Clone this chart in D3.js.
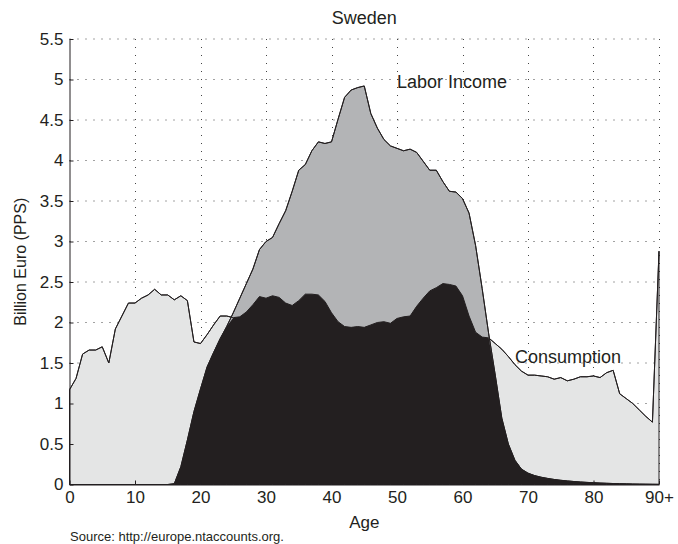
<!DOCTYPE html>
<html><head><meta charset="utf-8">
<script src="https://cdn.jsdelivr.net/npm/d3@7"></script>
<style>
body{margin:0;background:#fff}
svg{display:block}
text{font-family:"Liberation Sans",Arial,Helvetica,sans-serif;fill:#231f20}
</style>
</head><body>
<svg id="chart" width="678" height="544"></svg>
<script>
// ---- data ----
const title = "Sweden";
const ages = d3.range(0, 91);
const consumption = [
  1.17,1.31,1.61,1.66,1.66,1.70,1.50,1.92,2.08,2.24,
  2.24,2.30,2.34,2.41,2.34,2.34,2.28,2.33,2.27,1.76,
  1.74,1.85,1.97,2.08,2.08,2.06,2.07,2.13,2.22,2.32,
  2.30,2.33,2.31,2.24,2.21,2.27,2.35,2.35,2.34,2.26,
  2.12,2.01,1.95,1.94,1.95,1.94,1.97,2.00,2.01,1.99,
  2.05,2.07,2.08,2.20,2.30,2.39,2.43,2.48,2.47,2.45,
  2.33,2.08,1.88,1.82,1.81,1.74,1.67,1.58,1.48,1.40,
  1.35,1.35,1.34,1.33,1.30,1.32,1.28,1.30,1.33,1.33,
  1.34,1.32,1.38,1.41,1.12,1.06,1.00,0.92,0.84,0.77,
  2.88
];
const laborIncome = [
  0,0,0,0,0,0,0,0,0,0,
  0,0,0,0,0,0,0.01,0.22,0.55,0.90,
  1.18,1.45,1.63,1.80,1.95,2.12,2.30,2.48,2.66,2.90,
  3.00,3.05,3.22,3.38,3.62,3.88,3.95,4.12,4.23,4.21,
  4.23,4.51,4.78,4.87,4.90,4.92,4.58,4.40,4.26,4.18,
  4.15,4.12,4.14,4.10,3.99,3.88,3.88,3.74,3.62,3.61,
  3.53,3.35,2.95,2.42,1.86,1.35,0.82,0.50,0.30,0.19,
  0.14,0.11,0.09,0.075,0.062,0.052,0.044,0.037,0.031,0.026,
  0.022,0.018,0.015,0.012,0.010,0.008,0.006,0.005,0.004,0.003,
  0.002
];
const xTickValues = [0,10,20,30,40,50,60,70,80,90];
const xTickLabels = ["0","10","20","30","40","50","60","70","80","90+"];
const yTickValues = [0,0.5,1,1.5,2,2.5,3,3.5,4,4.5,5,5.5];
const yTickLabels = ["0","0.5","1","1.5","2","2.5","3","3.5","4","4.5","5","5.5"];
const seriesLabels = {consumption: "Consumption", labor: "Labor Income"};
const xLabel = "Age";
const yLabel = "Billion Euro (PPS)";
const sourceNote = "Source: http://europe.ntaccounts.org.";

// ---- layout ----
const svg = d3.select("#chart");
const x = d3.scaleLinear().domain([0, 90]).range([69.5, 659]);
const y = d3.scaleLinear().domain([0, 5.5]).range([484.5, 39]);
const ink = "#231f20";

const rows = ages.map((a, i) => ({
  age: a, c: consumption[i], l: laborIncome[i], m: Math.min(consumption[i], laborIncome[i])
}));

// grid
const grid = svg.append("g");
grid.selectAll("line.v").data(xTickValues.slice(1)).join("line")
  .attr("x1", d => Math.round(x(d)) + 0.5).attr("x2", d => Math.round(x(d)) + 0.5)
  .attr("y1", y(5.5)).attr("y2", y(0))
  .attr("stroke", "#444").attr("stroke-width", 1).attr("stroke-dasharray", "1,7");
grid.selectAll("line.h").data(yTickValues.slice(1)).join("line")
  .attr("y1", d => y(d)).attr("y2", d => y(d))
  .attr("x1", x(0)).attr("x2", x(90))
  .attr("stroke", "#444").attr("stroke-width", 1).attr("stroke-dasharray", "1,7");

// areas
const areaC = d3.area().x(d => x(d.age)).y0(y(0)).y1(d => y(d.c));
const areaL = d3.area().x(d => x(d.age)).y0(y(0)).y1(d => y(d.l));
const areaM = d3.area().x(d => x(d.age)).y0(y(0)).y1(d => y(d.m));
svg.append("path").datum(rows).attr("d", areaC)
  .attr("fill", "#e4e5e5").attr("stroke", ink).attr("stroke-width", 1);
svg.append("path").datum(rows).attr("d", areaL)
  .attr("fill", "#b3b4b6").attr("stroke", ink).attr("stroke-width", 1);
svg.append("path").datum(rows).attr("d", areaM)
  .attr("fill", ink).attr("stroke", "none");

// lines
const lineC = d3.line().x(d => x(d.age)).y(d => y(d.c));
const lineL = d3.line().x(d => x(d.age)).y(d => y(d.l));
svg.append("path").datum(rows).attr("d", lineC).attr("fill", "none").attr("stroke", ink).attr("stroke-width", 1);
svg.append("path").datum(rows).attr("d", lineL).attr("fill", "none").attr("stroke", ink).attr("stroke-width", 1);

// axes
const xAxis = d3.axisBottom(x).tickValues(xTickValues)
  .tickFormat((d, i) => xTickLabels[i]).tickSizeInner(-4).tickSizeOuter(0).tickPadding(6);
const yAxis = d3.axisLeft(y).tickValues(yTickValues)
  .tickFormat((d, i) => yTickLabels[i]).tickSizeInner(-4).tickSizeOuter(0).tickPadding(6);
const gx = svg.append("g").attr("transform", `translate(0,${y(0)})`).call(xAxis);
const gy = svg.append("g").attr("transform", `translate(${x(0)},0)`).call(yAxis);
[gx, gy].forEach(g => {
  g.select(".domain").attr("stroke", ink);
  g.selectAll(".tick line").attr("stroke", ink);
  g.selectAll(".tick text").attr("fill", ink)
    .style("font-family", '"Liberation Sans",Arial,sans-serif').style("font-size", "17px");
});

// texts
svg.append("text").attr("x", x(45)).attr("y", 24).attr("text-anchor", "middle")
  .style("font-size", "18px").text(title);
svg.append("text").attr("x", x(45)).attr("y", 528).attr("text-anchor", "middle")
  .style("font-size", "17px").text(xLabel);
svg.append("text").attr("transform", `translate(26,${(y(0) + y(5.5)) / 2}) rotate(-90)`)
  .attr("text-anchor", "middle").style("font-size", "16px").text(yLabel);
svg.append("text").attr("x", 70).attr("y", 541).style("font-size", "13px").text(sourceNote);
svg.append("text").attr("x", x(50)).attr("y", y(4.9)).style("font-size", "18px").text(seriesLabels.labor);
svg.append("text").attr("x", x(68)).attr("y", y(1.5)).style("font-size", "18px").text(seriesLabels.consumption);
</script>
</body></html>
